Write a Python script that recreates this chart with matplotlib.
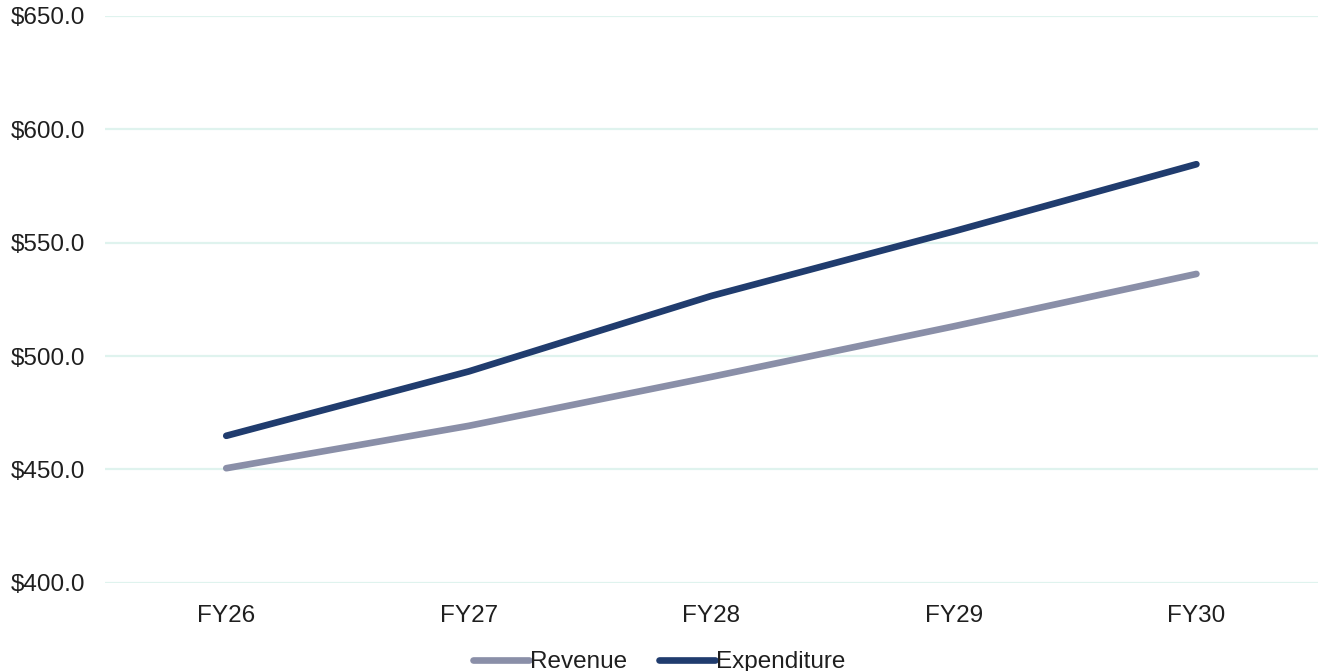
import matplotlib.pyplot as plt
import matplotlib.ticker as mticker

plt.rcParams['font.family'] = ['Liberation Sans', 'DejaVu Sans']

# data (USD)
years = ['FY26', 'FY27', 'FY28', 'FY29', 'FY30']
revenue = [450.5, 469.2, 490.8, 513.1, 536.2]
expenditure = [464.8, 493.2, 526.5, 555.0, 584.6]

rev_color = '#8A8FA8'
exp_color = '#203C6E'
grid_color = '#DFF3EE'
text_color = '#1F1F1F'

fig = plt.figure(figsize=(13.19, 6.71), dpi=100)
ax = fig.add_axes([0.0796, 0.1316, 0.9194, 0.8446])

x = range(len(years))
ax.plot(x, revenue, color=rev_color, lw=4.8, solid_capstyle='round',
        solid_joinstyle='round', label='Revenue')
ax.plot(x, expenditure, color=exp_color, lw=4.8, solid_capstyle='round',
        solid_joinstyle='round', label='Expenditure')

ax.set_xlim(-0.5, len(years) - 0.5)
ax.set_ylim(400, 650)
ax.set_xticks(list(x))
ax.set_xticklabels(years)
ax.yaxis.set_major_locator(mticker.MultipleLocator(50))
ax.yaxis.set_major_formatter(mticker.FuncFormatter(lambda v, p: '${:,.1f}'.format(v)))

ax.grid(axis='y', color=grid_color, lw=1.6)
ax.set_axisbelow(True)
for s in ax.spines.values():
    s.set_visible(False)
ax.tick_params(axis='both', length=0, labelsize=17.5, colors=text_color)
ax.tick_params(axis='y', pad=14)
ax.tick_params(axis='x', pad=16)

fig.legend(loc='center', bbox_to_anchor=(0.5, 0.013), ncol=2, frameon=False,
           fontsize=17.5, handlelength=2.3, handletextpad=0.05, columnspacing=1.3,
           labelcolor=text_color)

fig.savefig('out.png', dpi=100)
